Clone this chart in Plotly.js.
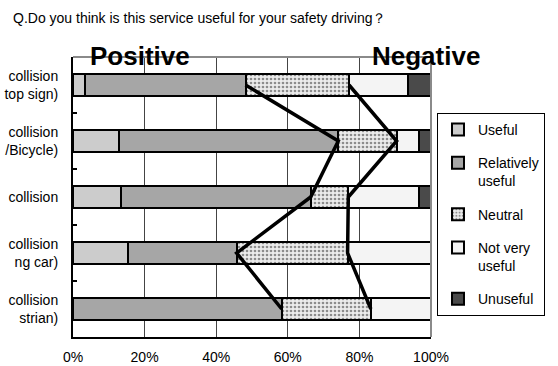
<!DOCTYPE html>
<html>
<head>
<meta charset="utf-8">
<script src="https://cdn.plot.ly/plotly-3.0.1.min.js"></script>
<style>html,body{margin:0;padding:0;background:#fff;}#chart{width:558px;height:366px;}</style>
</head>
<body>
<div id="chart"></div>
<script>
// Category labels as visible in the (cropped) reference
const categories = [
  "collision<br>top sign)",
  "collision<br>/Bicycle)",
  "collision",
  "collision<br>ng car)",
  "collision<br>strian)"
];
const seriesNames = ["Useful", "Relatively<br>useful", "Neutral", "Not very<br>useful", "Unuseful"];
const useful           = [3.4, 12.8, 13.4, 15.5, 0.0];
const relativelyUseful = [44.8, 61.3, 53.0, 30.2, 58.3];
const neutral          = [28.9, 16.3, 10.5, 31.0, 24.9];
const notVeryUseful    = [16.4, 6.3, 19.7, 23.3, 16.8];
const unuseful         = [6.5, 3.3, 3.4, 0.0, 0.0];
const xTickVals = [0, 20, 40, 60, 80, 100];
const xTickText = ["0%", "20%", "40%", "60%", "80%", "100%"];

const series = [useful, relativelyUseful, neutral, notVeryUseful, unuseful];
const fills = ["#cccccc", "#a6a6a6", "#9a9a9a", "#f4f4f4", "#4a4a4a"];

const traces = series.map((vals, i) => {
  const t = {
    type: "bar", orientation: "h", name: seriesNames[i],
    x: vals, y: categories, legendgroup: "g" + i,
    marker: {color: fills[i], line: {color: "#000", width: 2}},
    hoverinfo: "x+name"
  };
  if (i === 2) {
    t.marker.pattern = {shape: ".", bgcolor: "#ececec", fgcolor: "#8c8c8c", size: 4, solidity: 0.35};
  }
  return t;
});

const cumRel = categories.map((c, k) => useful[k] + relativelyUseful[k]);
const cumNeu = categories.map((c, k) => useful[k] + relativelyUseful[k] + neutral[k]);
[cumRel, cumNeu].forEach(arr => traces.push({
  type: "scatter", mode: "lines", x: arr, y: categories, showlegend: false,
  line: {color: "#000", width: 3.5}, hoverinfo: "skip"
}));

const layout = {
  width: 558, height: 366,
  margin: {l: 73, r: 127, t: 57, b: 29},
  paper_bgcolor: "#fff", plot_bgcolor: "#fff",
  font: {family: "Liberation Sans, Arial, sans-serif", color: "#000", size: 14},
  barmode: "stack", bargap: 0.6,
  showlegend: true,
  title: {text: "Q.Do you think is this service useful for your safety driving？",
    font: {size: 14, color: "#000"}, xref: "container", yref: "container",
    x: 13/558, xanchor: "left", y: 1 - 18/366, yanchor: "middle"},
  xaxis: {range: [0, 100], tickvals: xTickVals, ticktext: xTickText,
    showgrid: true, gridcolor: "#444", gridwidth: 1, zeroline: false,
    showline: true, linecolor: "#000", linewidth: 2, ticks: "", ticklabelstandoff: 6,
    tickfont: {size: 14}, fixedrange: true},
  yaxis: {autorange: "reversed", type: "category", showgrid: false, zeroline: false,
    showline: true, linecolor: "#000", linewidth: 2,
    ticks: "inside", tickson: "boundaries", ticklen: 4, tickcolor: "#000", tickwidth: 1.5,
    ticklabelstandoff: 10, tickfont: {size: 14}, automargin: false, fixedrange: true},
  legend: {x: (437-73)/358, xanchor: "left", y: (337-113)/280, yanchor: "top",
    bordercolor: "#000", borderwidth: 1, bgcolor: "#fff",
    font: {size: 14}, valign: "top", tracegroupgap: 12, traceorder: "grouped", itemwidth: 30},
  shapes: [
    {type: "line", xref: "paper", yref: "paper", x0: 0, x1: 1, y0: 1, y1: 1, line: {color: "#8a8a8a", width: 2}},
    {type: "line", xref: "paper", yref: "paper", x0: 1, x1: 1, y0: 0, y1: 1, line: {color: "#8a8a8a", width: 2}}
  ],
  annotations: [
    {text: "<b>Positive</b>", xref: "paper", yref: "paper", x: (140-73)/358, y: (337-56)/280,
      xanchor: "center", yanchor: "middle", showarrow: false, font: {size: 26, color: "#000"}},
    {text: "<b>Negative</b>", xref: "paper", yref: "paper", x: (426-73)/358, y: (337-56)/280,
      xanchor: "center", yanchor: "middle", showarrow: false, font: {size: 26, color: "#000"}}
  ]
};

Plotly.newPlot("chart", traces, layout, {displayModeBar: false, staticPlot: true});
</script>
</body>
</html>
